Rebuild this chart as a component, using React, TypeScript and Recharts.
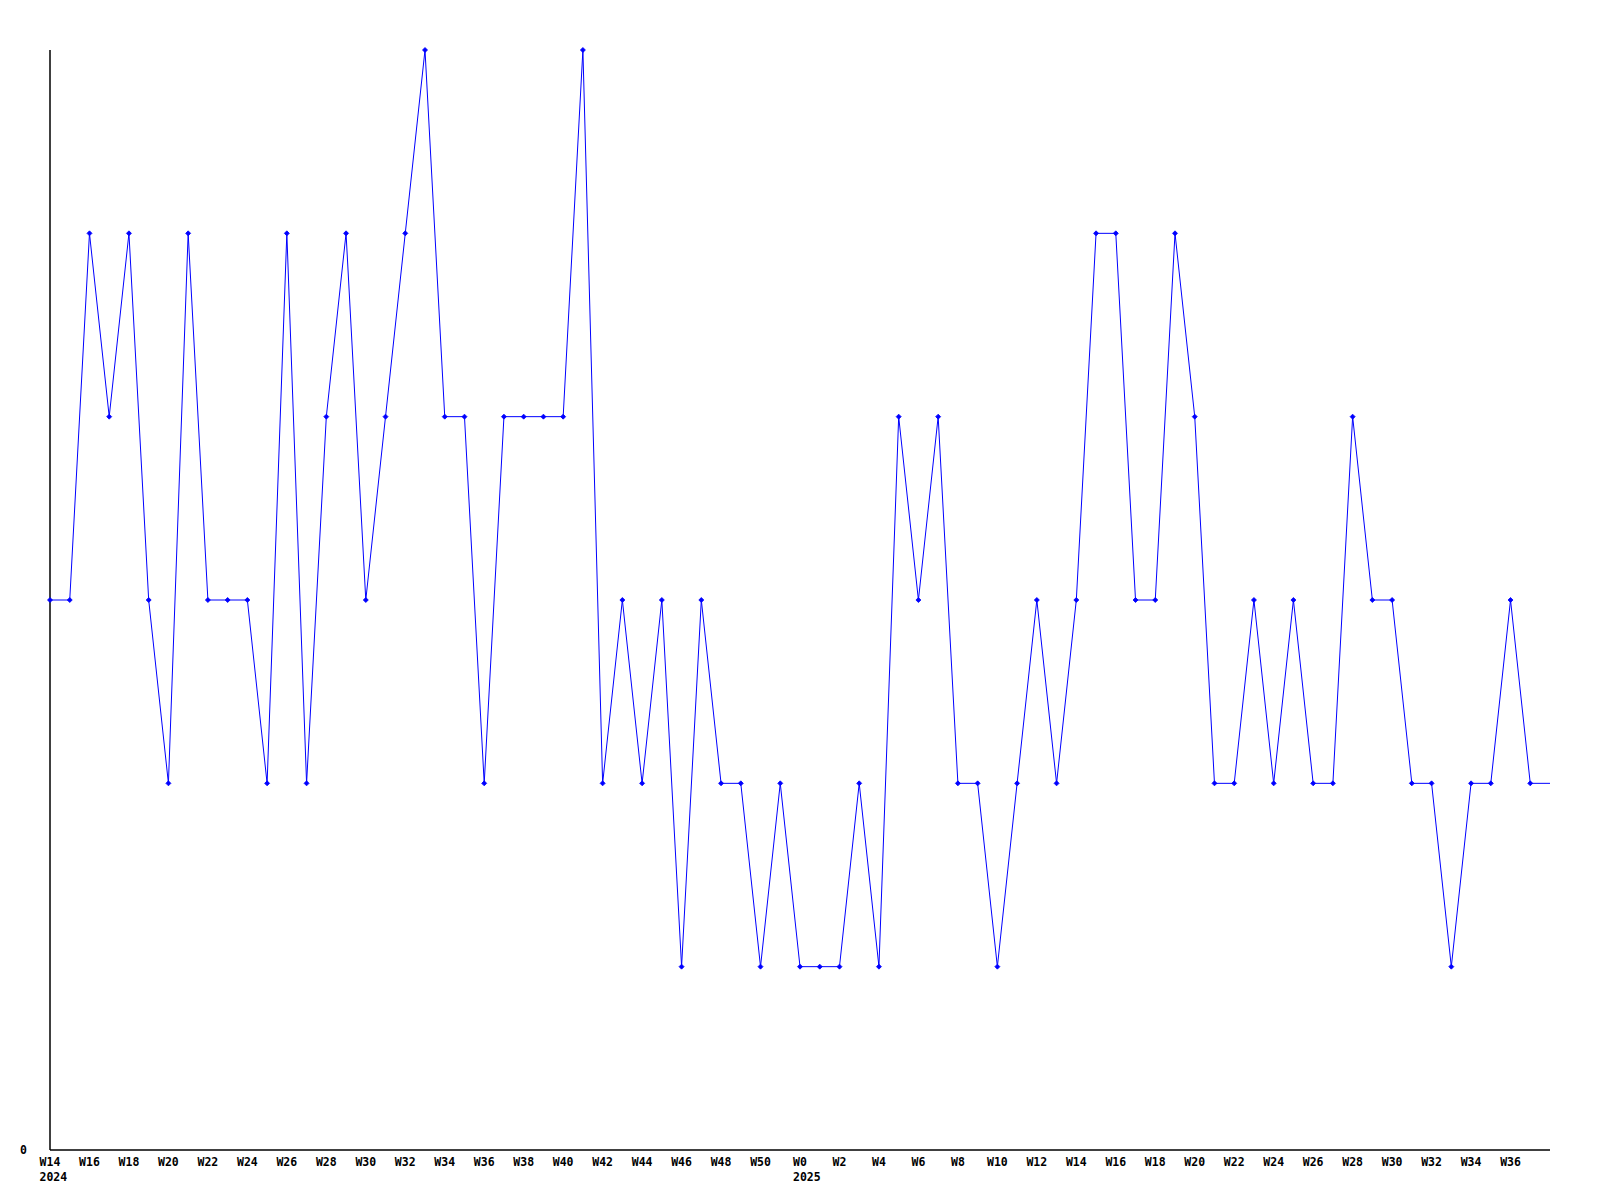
import React from "react";
import { LineChart, Line, XAxis, YAxis } from "recharts";

const weekLabels: string[] = [
  "W14","W15","W16","W17","W18","W19","W20","W21","W22","W23","W24","W25","W26","W27","W28","W29","W30","W31","W32","W33",
  "W34","W35","W36","W37","W38","W39","W40","W41","W42","W43","W44","W45","W46","W47","W48","W49","W50","W51",
  "W0","W1","W2","W3","W4","W5","W6","W7","W8","W9","W10","W11","W12","W13","W14","W15","W16","W17","W18","W19",
  "W20","W21","W22","W23","W24","W25","W26","W27","W28","W29","W30","W31","W32","W33","W34","W35","W36","W37","W38",
];

const yearLabels: Record<string, string> = { "0": "2024", "38": "2025" };

const values: number[] = [
  3, 3, 5, 4, 5, 3, 2, 5, 3, 3, 3, 2, 5, 2, 4, 5, 3, 4, 5, 6,
  4, 4, 2, 4, 4, 4, 4, 6, 2, 3, 2, 3, 1, 3, 2, 2, 1, 2,
  1, 1, 1, 2, 1, 4, 3, 4, 2, 2, 1, 2, 3, 2, 3, 5, 5, 3, 3, 5,
  4, 2, 2, 3, 2, 3, 2, 2, 4, 3, 3, 2, 2, 1, 2, 2, 3, 2, 2,
];

const xTicks: number[] = weekLabels.map((_, i) => i).filter((i) => i % 2 === 0 && i < 76);
const yTicks: number[] = [0];

const data = values.map((v, i) => ({ i, week: weekLabels[i], value: v }));

const FONT = "'DejaVu Sans Mono', 'Liberation Mono', monospace";

const XTick = (props: any) => {
  const { x, y, payload } = props;
  const idx = payload.value as number;
  const label = weekLabels[idx];
  const charW = 7;
  const w = label.length * charW;
  const year = yearLabels[String(idx)];
  return (
    <g>
      <text x={x} y={y + 8} textAnchor="middle" fontFamily={FONT} fontWeight="bold" fontSize={11.5} fill="#000">
        {label}
      </text>
      {year ? (
        <text x={x - w / 2} y={y + 23} textAnchor="start" fontFamily={FONT} fontWeight="bold" fontSize={11.5} fill="#000">
          {year}
        </text>
      ) : null}
    </g>
  );
};

const YTick = (props: any) => {
  const { y, payload } = props;
  return (
    <text x={27} y={y + 4} textAnchor="end" fontFamily={FONT} fontWeight="bold" fontSize={11.5} fill="#000">
      {String(payload.value)}
    </text>
  );
};

const Dot = (props: any) => {
  const { cx, cy, index } = props;
  if (index === values.length - 1 || cx == null || cy == null) return <g key={`d${index}`} />;
  const r = 2.5;
  return (
    <polygon
      key={`d${index}`}
      points={`${cx},${cy - r} ${cx + r},${cy} ${cx},${cy + r} ${cx - r},${cy}`}
      fill="#0000ff"
      stroke="#0000ff"
      strokeWidth={0.8}
    />
  );
};

export default function App() {
  return (
    <div style={{ position: "absolute", left: 0, top: 0, width: 1600, height: 1200, background: "#fff" }}>
      <LineChart width={1600} height={1200} data={data} margin={{ top: 50, right: 50, left: 0, bottom: 0 }}>
        <XAxis
          dataKey="i"
          type="number"
          domain={[0, 76]}
          ticks={xTicks}
          interval={0}
          height={50}
          tickLine={false}
          axisLine={{ stroke: "#000", strokeWidth: 1.5 }}
          tick={<XTick />}
        />
        <YAxis
          type="number"
          domain={[0, 6]}
          ticks={yTicks}
          width={50}
          tickLine={false}
          axisLine={{ stroke: "#000", strokeWidth: 1.5 }}
          tick={<YTick />}
        />
        <Line
          type="linear"
          dataKey="value"
          stroke="#0000ff"
          strokeWidth={1}
          dot={<Dot />}
          activeDot={false}
          isAnimationActive={false}
        />
      </LineChart>
    </div>
  );
}
